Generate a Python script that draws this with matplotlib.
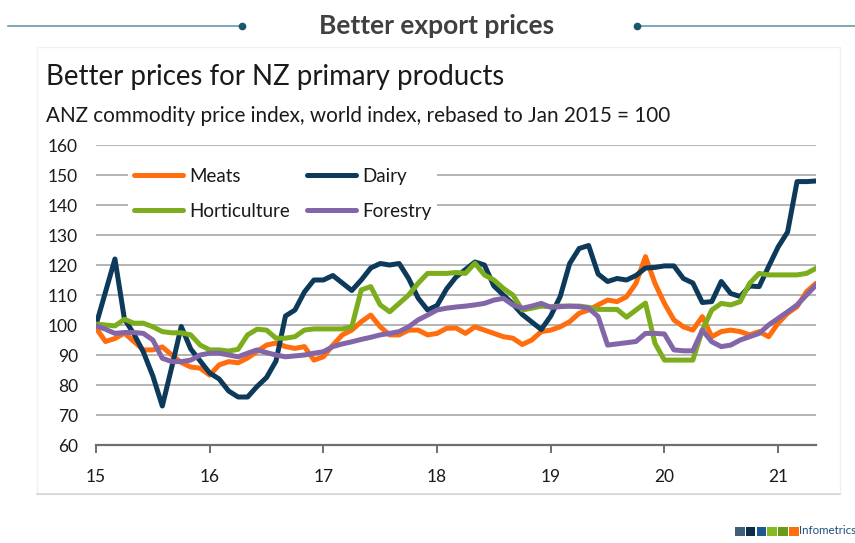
import numpy as np
import matplotlib
matplotlib.use("Agg")
import matplotlib.pyplot as plt
from matplotlib.lines import Line2D
from matplotlib.patches import Rectangle
from matplotlib import font_manager as fm

# ---------------- data ----------------
start_year = 15
series_names = ["Meats", "Dairy", "Horticulture", "Forestry"]
series_colors = ["#ff6d0d", "#0d3a5a", "#7cad1c", "#8366a8"]

meats = [99, 94.5, 95.5, 97.3, 94.5, 91.7, 91.7, 92.7, 90, 87.5,
         86, 85.6, 83.3, 86.7, 87.8, 87.4, 89, 91.2, 93.3, 94,
         92.8, 92.2, 92.8, 88.3, 89.4, 93.3, 96.7, 98.3, 101.1, 103.3,
         99.4, 96.7, 96.7, 98.3, 98.3, 96.7, 97.2, 98.9, 99, 97.2,
         99.4, 98.3, 97.2, 96.1, 95.6, 93.5, 95, 97.8, 98.3, 99.4,
         101.1, 103.9, 105, 106.7, 108.3, 107.8, 109.4, 113.9, 122.8, 113.9,
         107.2, 101.7, 99.4, 98.3, 102.8, 96.1, 97.8, 98.3, 97.8, 96.7,
         97.8, 96.1, 100.6, 103.9, 106.1, 111.1, 113.9]

dairy = [100, 111, 122, 102, 97, 91, 83, 73, 86, 99.5,
         92, 88, 84, 82, 78, 76, 76, 79.5, 82.5, 88,
         103, 105, 111, 115, 115, 116.5, 114, 111.5, 115, 119,
         120.5, 120, 120.5, 115.5, 109, 105, 106.5, 112, 116, 118.5,
         121, 120, 113, 110, 107, 103.5, 101, 98.5, 103, 109.5,
         120.5, 125.5, 126.5, 117, 114.5, 115.5, 115, 116.5, 119, 119.2,
         119.7, 119.7, 115.5, 114, 107.5, 107.8, 114.5, 110.5, 109.5, 113,
         112.8, 119.5, 126, 131, 147.8, 147.8, 148]

horticulture = [100.3, 100, 99.7, 101.9, 100.6, 100.6, 99.4, 97.8, 97.4, 97.4,
                96.7, 93.3, 91.7, 91.7, 91.3, 91.9, 96.7, 98.6, 98.3, 95.6,
                95.6, 96.1, 98.3, 98.7, 98.7, 98.7, 98.7, 99.4, 111.7, 112.8,
                106.7, 104.4, 107.2, 110, 113.9, 117.2, 117.2, 117.2, 117.5, 117.2,
                120.6, 116.7, 115, 112.2, 110, 105, 105.6, 106.3, 106.1, 106.3,
                106.3, 106.3, 105.9, 105.2, 105.2, 105.2, 102.6, 105, 107.3, 93.9,
                88.3, 88.3, 88.3, 88.3, 98.3, 105, 107.2, 106.7, 107.8, 113.9,
                117.2, 116.7, 116.7, 116.7, 116.7, 117.2, 118.9]

forestry = [99.7, 98.6, 97.2, 97.5, 97.5, 97.2, 95, 88.9, 87.8, 87.8,
            88.3, 90, 90.6, 90.6, 90, 89.4, 90.6, 91.7, 90.8, 90,
            89.4, 89.7, 90, 90.6, 91.1, 92.8, 93.7, 94.4, 95.2, 95.9,
            96.7, 97.2, 97.8, 99.4, 101.7, 103.3, 105, 105.6, 106, 106.3,
            106.7, 107.2, 108.3, 108.9, 106.7, 105.6, 106.3, 107.2, 105.9, 106.1,
            106.3, 106.1, 105.6, 102.8, 93.3, 93.7, 94.1, 94.5, 97.2, 97.2,
            97, 91.7, 91.4, 91.4, 98.3, 94.4, 92.8, 93.3, 95, 96.1,
            97.2, 100, 102.2, 104.4, 106.7, 110, 113.3]

y_ticks = [60, 70, 80, 90, 100, 110, 120, 130, 140, 150, 160]
x_tick_labels = ["15", "16", "17", "18", "19", "20", "21"]

header = "Better export prices"
title = "Better prices for NZ primary products"
subtitle = "ANZ commodity price index, world index, rebased to Jan 2015 = 100"
brand = "Infometrics"

# ---------------- fonts ----------------
installed = {f.name for f in fm.fontManager.ttflist}
body_font = "Lato" if "Lato" in installed else "DejaVu Sans"
narrow_font = "Liberation Sans Narrow" if "Liberation Sans Narrow" in installed else body_font
plt.rcParams["font.family"] = [body_font, "DejaVu Sans"]

W, H = 855, 543
fig = plt.figure(figsize=(W / 100, H / 100), dpi=100)
fig.patch.set_facecolor("white")

def fx(px):
    return px / W

def fy(py):
    return 1 - py / H

# ---------------- header ----------------
fig.text(fx(437), fy(26), header, ha="center", va="center",
         fontsize=19, fontweight="bold", color="#404040",
         family=[narrow_font, "DejaVu Sans"])
line_col = "#6a98a8"
dot_col = "#17586a"
fig.add_artist(Line2D([fx(8), fx(242)], [fy(26), fy(26)], color=line_col, lw=1.2))
fig.add_artist(Line2D([fx(242)], [fy(26)], marker="o", ms=4.5, color=dot_col, lw=0))
fig.add_artist(Line2D([fx(637), fx(855)], [fy(26), fy(26)], color=line_col, lw=1.2))
fig.add_artist(Line2D([fx(637)], [fy(26)], marker="o", ms=4.5, color=dot_col, lw=0))

# panel outline
fig.add_artist(Rectangle((fx(37), fy(494)), fx(840) - fx(37), fy(47) - fy(494),
                         fill=False, edgecolor="#f0f0f0", lw=1.0))
fig.add_artist(Line2D([fx(37), fx(840)], [fy(494), fy(494)], color="#d4d4d4", lw=1.2))

# ---------------- titles ----------------
fig.text(fx(46), fy(77), title, ha="left", va="center", fontsize=19.9, color="#1a1a1a")
fig.text(fx(46), fy(116), subtitle, ha="left", va="center", fontsize=14.9, color="#1a1a1a")

# ---------------- axes ----------------
ax = fig.add_axes([fx(96), fy(445), fx(816) - fx(96), fy(145) - fy(445)])
n = len(meats)
x = start_year + np.arange(n) / 12.0
handles = {}
for vals, name, col in zip([meats, dairy, horticulture, forestry], series_names, series_colors):
    handles[name], = ax.plot(x, vals, color=col, lw=3.6, label=name,
                             solid_joinstyle="round", solid_capstyle="round")

ax.set_xlim(start_year, start_year + (n - 1) / 12.0)
ax.set_ylim(60, 160)
ax.set_yticks(y_ticks)
ax.set_yticklabels([str(v) for v in y_ticks])
ax.set_xticks([start_year + i for i in range(len(x_tick_labels))])
ax.set_xticklabels(x_tick_labels)

ax.grid(axis="y", color="#b4b4b4", lw=1.4)
ax.set_axisbelow(True)
for s in ["top", "right", "left"]:
    ax.spines[s].set_visible(False)
ax.spines["bottom"].set_color("#6e6e6e")
ax.spines["bottom"].set_linewidth(1.6)
ax.tick_params(axis="y", length=0, pad=13, labelsize=12.5, labelcolor="#1a1a1a")
ax.tick_params(axis="x", length=6, width=1.4, color="#6e6e6e", direction="out",
               pad=11, labelsize=12.5, labelcolor="#1a1a1a")

# legend filled column-wise -> rows: Meats/Dairy, Horticulture/Forestry
leg_order = ["Meats", "Horticulture", "Dairy", "Forestry"]
leg = ax.legend([handles[k] for k in leg_order], leg_order,
                ncol=2, loc="upper left", bbox_to_anchor=(0.045, 0.943),
                frameon=True, fontsize=13.5, handlelength=2.6, handletextpad=0.35,
                columnspacing=0.9, labelspacing=0.95, borderpad=0.3,
                borderaxespad=0.0)
leg.get_frame().set_facecolor("white")
leg.get_frame().set_edgecolor("none")
leg.get_frame().set_alpha(1.0)
for t in leg.get_texts():
    t.set_color("#1a1a1a")

# ---------------- logo ----------------
sq_cols = ["#3d5f7c", "#0c2c48", "#1d5a92", "#86bb1f", "#6a9a1a", "#ff6d0d"]
sq = 9.5
for i, c in enumerate(sq_cols):
    x0 = 735 + i * 10.8
    fig.add_artist(Rectangle((fx(x0), fy(536)), fx(sq), sq / H, color=c, lw=0))
fig.text(fx(799), fy(531), brand, ha="left", va="center", fontsize=8.3,
         color="#1f4e79", family=[narrow_font, "DejaVu Sans"])

fig.savefig("out.png", dpi=100, facecolor="white")
